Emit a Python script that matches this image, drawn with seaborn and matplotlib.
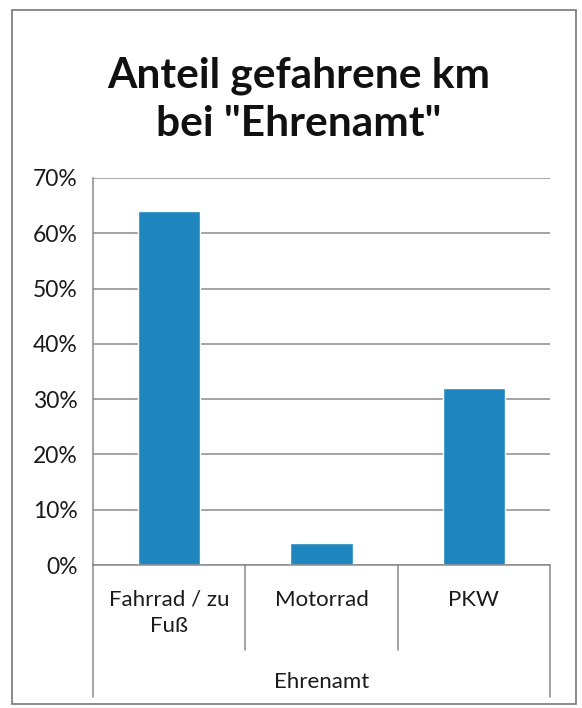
import matplotlib
matplotlib.use("Agg")
import matplotlib.pyplot as plt
from matplotlib.patches import Rectangle
import seaborn as sns

# data
categories = ["Fahrrad / zu\nFuß", "Motorrad", "PKW"]
shares = [64.0, 3.9, 32.1]
y_ticks = [0, 10, 20, 30, 40, 50, 60, 70]
y_labels = ["0%", "10%", "20%", "30%", "40%", "50%", "60%", "70%"]
group_label = "Ehrenamt"
title = 'Anteil gefahrene km\nbei "Ehrenamt"'

sns.set_style("white")
plt.rcParams["font.family"] = ["Lato", "DejaVu Sans"]

bar_color = "#1f86bf"
line_color = "#8a8a8a"
text_color = "#1a1a1a"

fig = plt.figure(figsize=(5.82, 7.08), dpi=100)
ax = fig.add_axes([93 / 582, 1 - 565 / 708, (550 - 93) / 582, (565 - 178) / 708])

sns.barplot(x=categories, y=shares, color=bar_color, width=0.41,
            saturation=1, ax=ax)

ax.set_ylim(0, 70)
ax.set_xlim(-0.5, 2.5)
ax.set_yticks(y_ticks)
ax.set_yticklabels(y_labels, fontsize=16.5, color=text_color)
ax.yaxis.grid(True, color=line_color, lw=1.1)
ax.set_axisbelow(True)
ax.tick_params(axis="y", length=7, width=1.1, color=line_color, pad=4)
ax.tick_params(axis="x", length=0, pad=18, labelsize=16, labelcolor=text_color)
for lbl in ax.get_xticklabels():
    lbl.set_linespacing(1.35)

for side in ["top", "right"]:
    ax.spines[side].set_visible(False)
for side in ["left", "bottom"]:
    ax.spines[side].set_color(line_color)
    ax.spines[side].set_linewidth(1.1)

# multi-level category axis: separators below the plot
trans = ax.get_xaxis_transform()
for xb in [0.5, 1.5]:
    ax.plot([xb, xb], [0, -0.22], color=line_color, lw=1.1,
            transform=trans, clip_on=False)
for xb in [-0.5, 2.5]:
    ax.plot([xb, xb], [0, -0.34], color=line_color, lw=1.1,
            transform=trans, clip_on=False)
ax.text(0.5, -0.302, group_label, transform=ax.transAxes, ha="center",
        va="center", fontsize=16, color=text_color)

fig.text(0.514, 1 - 100 / 708, title, ha="center", va="center",
         fontsize=30.5, fontweight="bold", linespacing=1.32, color="#111111")

# chart area border
fig.patches.append(Rectangle((12 / 582, 1 - 704 / 708), 564 / 582, 694 / 708,
                             transform=fig.transFigure, fill=False,
                             edgecolor="#777777", lw=1.2))

fig.savefig("out.png", dpi=100)
